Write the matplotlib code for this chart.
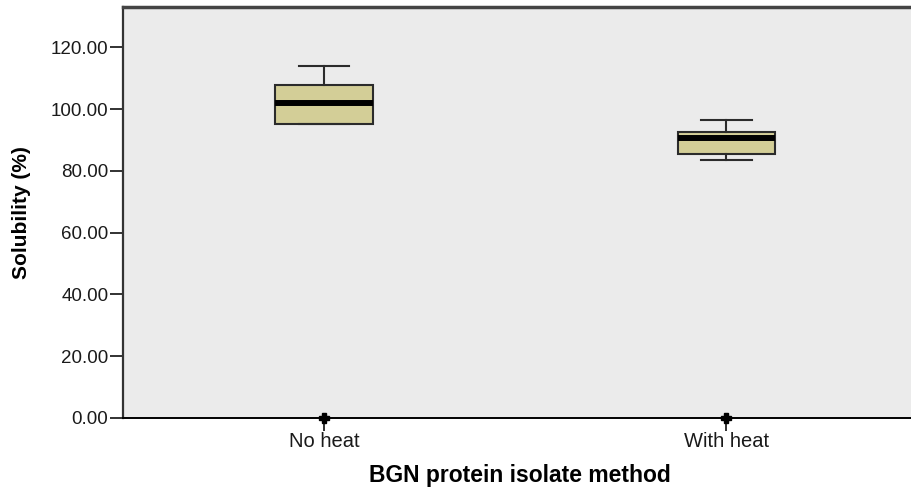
import matplotlib
matplotlib.use('Agg')
import matplotlib.pyplot as plt
from matplotlib.ticker import FormatStrFormatter

plt.rcParams['font.family'] = ['Liberation Sans', 'DejaVu Sans']

# box statistics
groups   = ['No heat', 'With heat']
whislo   = [95.2, 83.5]
q1       = [95.2, 85.5]
medians  = [101.9, 90.8]
q3       = [107.9, 92.5]
whishi   = [114.1, 96.5]
extremes = [[0.0], [0.0]]

stats = []
for i in range(len(groups)) :
  stats.append( dict(label=groups[i], whislo=whislo[i], q1=q1[i], med=medians[i],
                     q3=q3[i], whishi=whishi[i], fliers=[]) )

fig = plt.figure( figsize=(9.12, 4.92), dpi=100 )
ax = fig.add_axes( [0.1349, 0.151, 0.87, 0.834] )
ax.set_facecolor( '#EBEBEB' )

pos = [1, 2]
ax.bxp( stats, positions=pos, widths=0.2425, patch_artist=True, showfliers=False,
        boxprops=dict(facecolor='#D3CE97', edgecolor='#2b2b2b', linewidth=1.5),
        medianprops=dict(color='black', linewidth=4.3, solid_capstyle='butt'),
        whiskerprops=dict(color='#2b2b2b', linewidth=1.5),
        capprops=dict(color='#2b2b2b', linewidth=1.5), capwidths=0.125 )

# extreme values (SPSS asterisks)
for p, ev in zip(pos, extremes) :
  ax.plot( [p]*len(ev), ev, linestyle='none', marker='P', ms=7,
           color='black', clip_on=False, zorder=5 )

ax.set_xlim( 0.5, 2.4725 )
ax.set_ylim( 0, 133 )
ax.set_yticks( [0, 20, 40, 60, 80, 100, 120] )
ax.yaxis.set_major_formatter( FormatStrFormatter('%.2f') )
ax.set_xticks( pos )
ax.set_xticklabels( groups )
ax.tick_params( axis='both', direction='out', length=9.5, width=1.3, color='#222222',
                labelsize=13.5, labelcolor='#1a1a1a', pad=1 )
ax.tick_params( axis='x', labelsize=14.5 )

ax.spines['right'].set_visible( False )
ax.spines['top'].set_linewidth( 2.5 )
ax.spines['top'].set_color( '#444444' )
ax.spines['left'].set_linewidth( 1.6 )
ax.spines['left'].set_color( '#333333' )
ax.spines['bottom'].set_linewidth( 1.4 )
ax.spines['bottom'].set_color( 'black' )

ax.set_xlabel( 'BGN protein isolate method', fontsize=16.5, fontweight='bold', labelpad=9 )
ax.set_ylabel( 'Solubility (%)', fontsize=15, fontweight='bold', labelpad=14 )

plt.savefig( 'out.png', dpi=100 )
plt.close(fig)
